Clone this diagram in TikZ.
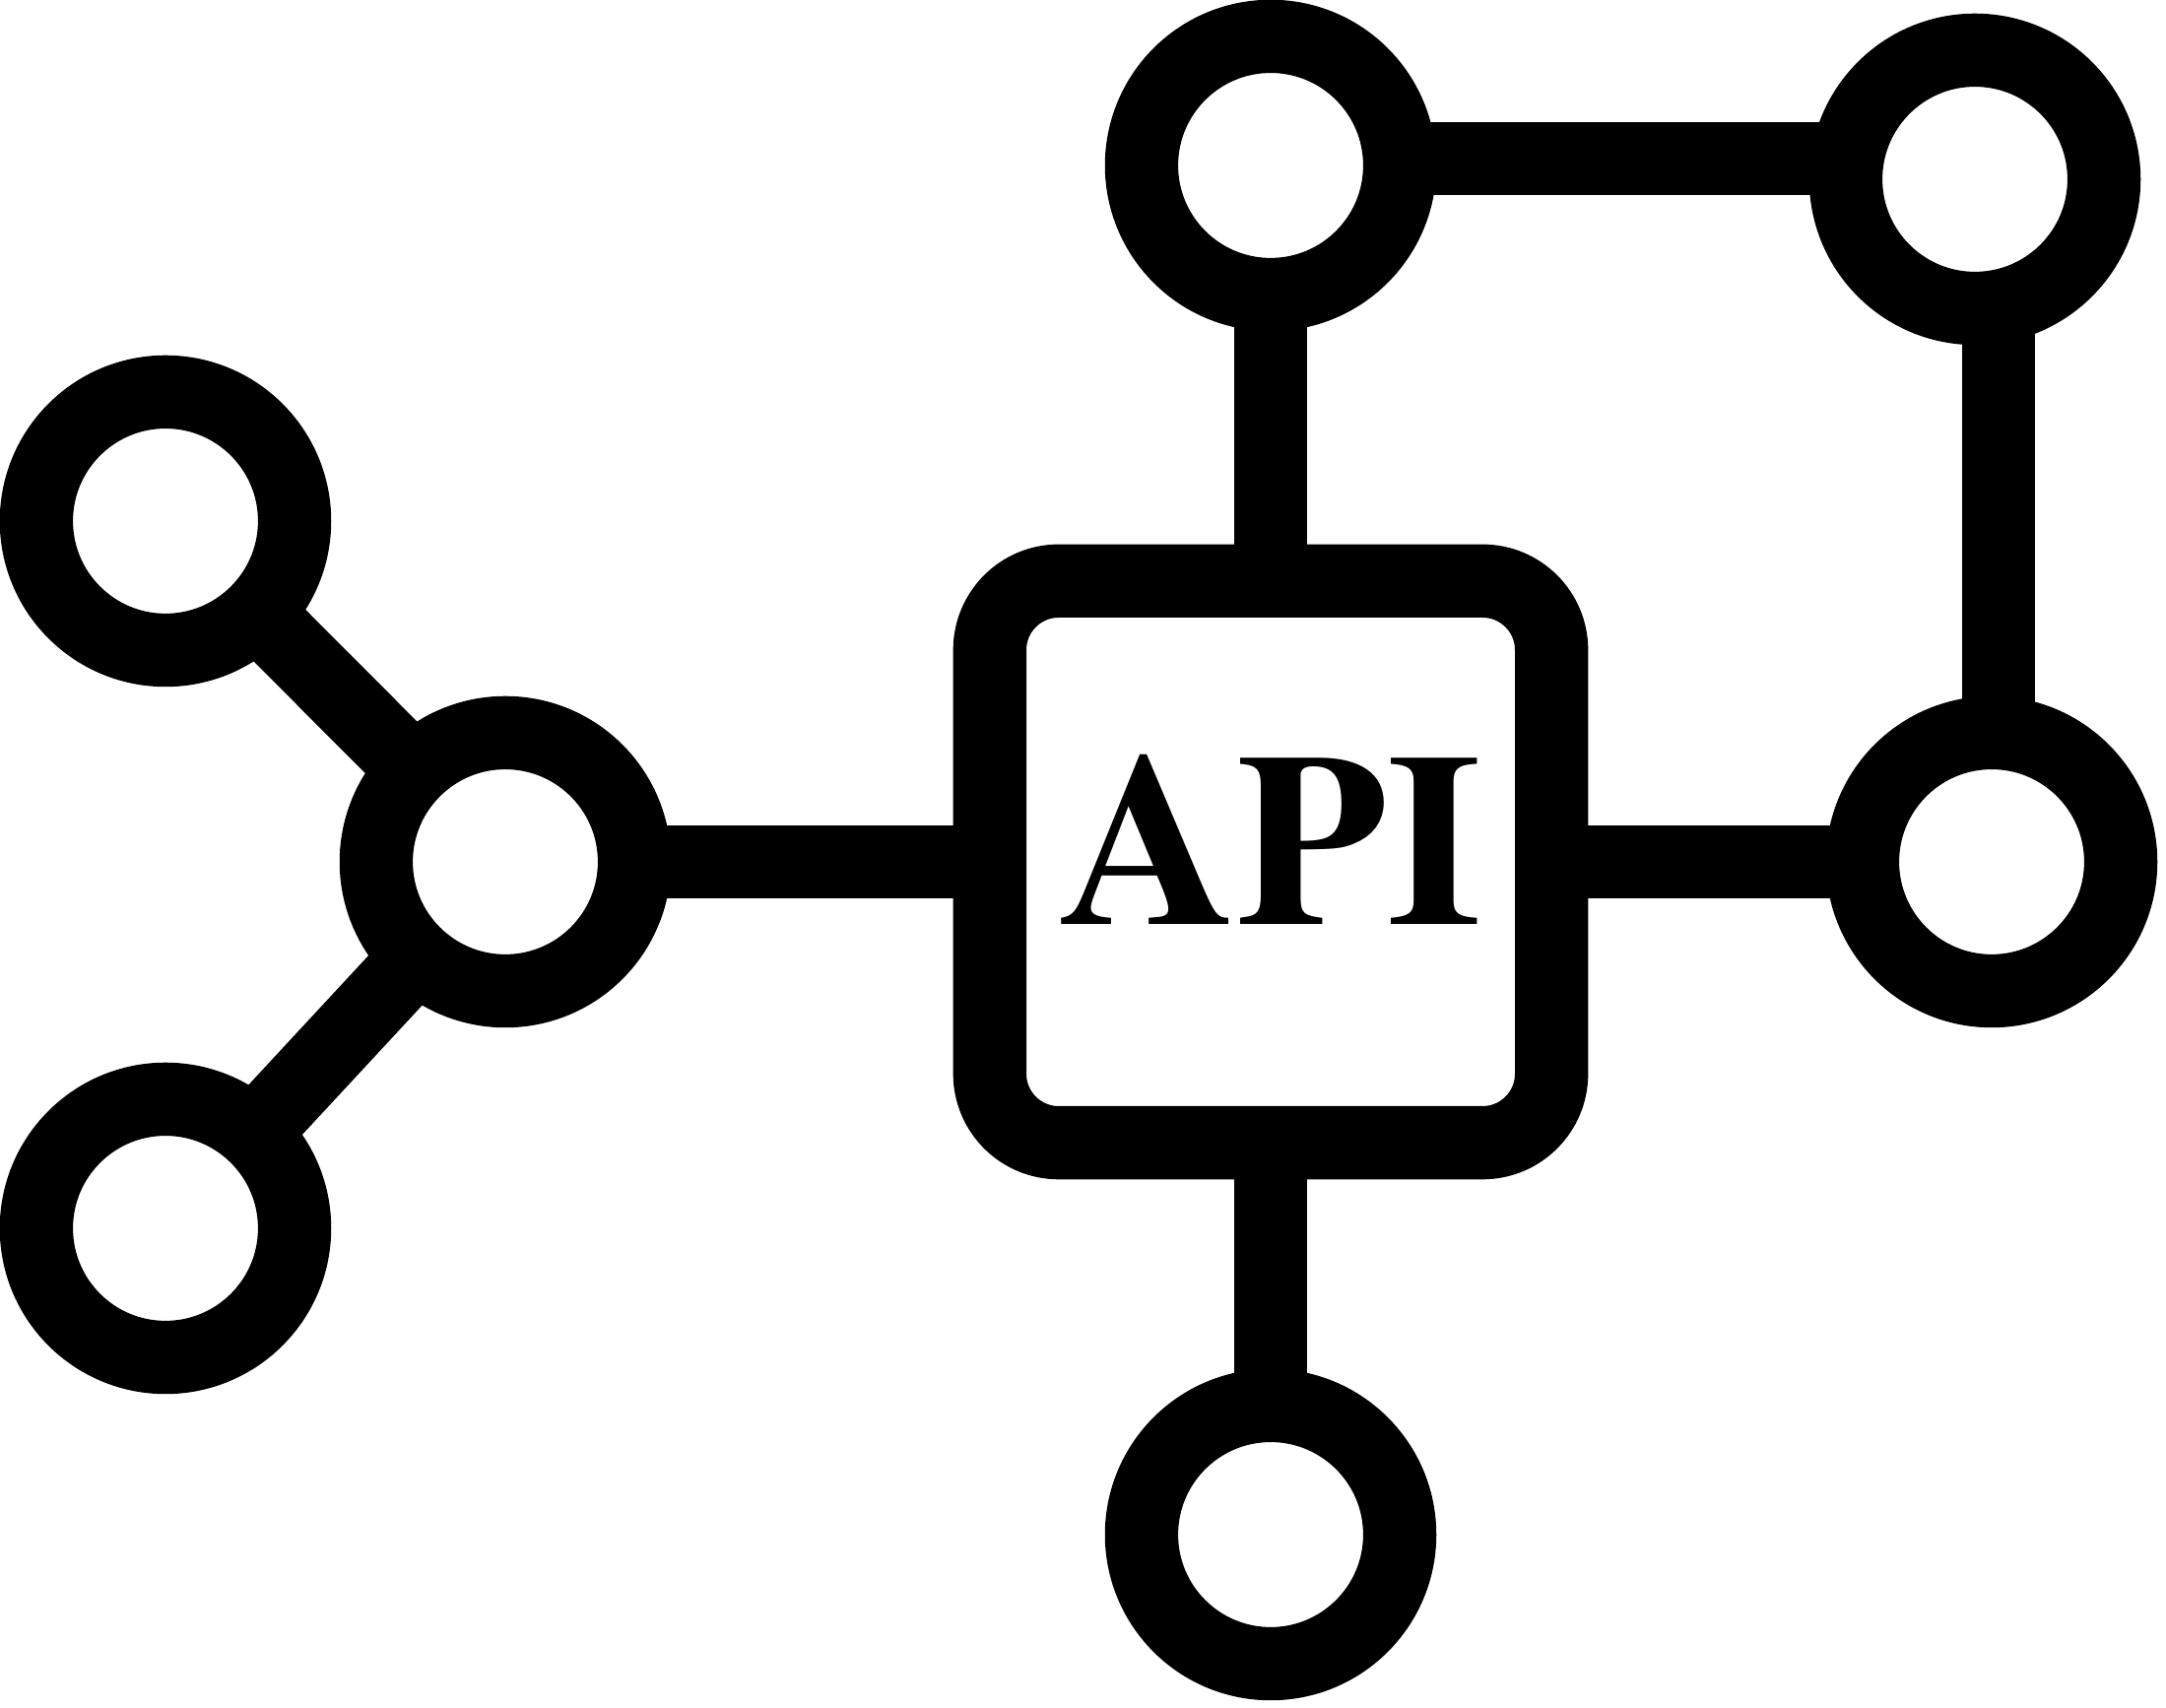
\documentclass[tikz,border=0pt]{standalone}
\usepackage{fontspec}
\newfontfamily\apifont{texgyretermes-bold.otf}

\begin{document}
\begin{tikzpicture}[x=0.01cm, y=0.01cm,
  every node/.style={line width=0.743cm, outer sep=0pt, inner sep=0pt},
  ring/.style={draw, circle, minimum size=2.62cm},
  apibox/.style={draw, rectangle, rounded corners=0.7cm, minimum width=5.7cm, minimum height=5.7cm,
    font=\apifont\fontsize{71}{71}\selectfont, text height=1.65cm, text depth=0.38cm},
  link/.style={line width=0.743cm}]
\useasboundingbox (0,0) rectangle (2199,1734);

\node[apibox] (api) at (1290,859) {API\hspace{0.16cm}};

\node[ring] (top) at (1290,1566) {};
\node[ring] (topright) at (2005,1552) {};
\node[ring] (right) at (2022,859) {};
\node[ring] (bottom) at (1290,176) {};
\node[ring] (midleft) at (513,859) {};
\node[ring] (lefttop) at (168,1205) {};
\node[ring] (leftbottom) at (168,487) {};

\draw[link] (top) -- (api);
\draw[link] (api) -- (bottom);
\draw[link] (api) -- (right);
\draw[link] (midleft) -- (api);
\draw[link] ([yshift=0.07cm]top.east) -- ([yshift=0.07cm]top.east -| topright.west);
\draw[link] ([xshift=0.07cm]right.north) -- ([xshift=0.07cm]right.north |- topright.south);
\draw[link] (midleft) -- (lefttop);
\draw[link] (midleft) -- (leftbottom);
\end{tikzpicture}
\end{document}
